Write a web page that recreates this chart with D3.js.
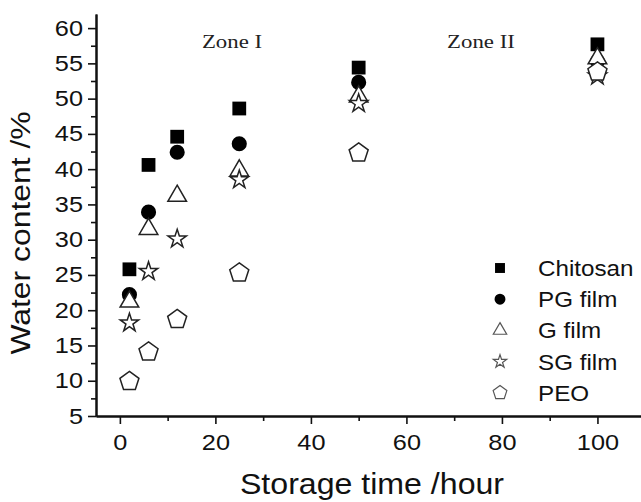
<!DOCTYPE html>
<html>
<head>
<meta charset="utf-8">
<script src="https://cdnjs.cloudflare.com/ajax/libs/d3/7.8.5/d3.min.js"></script>
<style>
  body { margin: 0; background: #fff; }
  svg { display: block; font-family: "Liberation Sans", Arial, sans-serif; }
</style>
</head>
<body>
<svg id="chart"></svg>
<script>
// storage time (hours) and water content (%) per film
const hours = [2, 6, 12, 25, 50, 100]
const chitosan = [25.8, 40.6, 44.6, 48.6, 54.4, 57.7]
const pgFilm = [22.2, 33.9, 42.4, 43.6, 52.3, 55.3]
const gFilm = [21.2, 31.5, 36.2, 39.8, 50.3, 55.7]
const sgFilm = [18.2, 25.5, 30.1, 38.5, 49.3, 53.2]
const peo = [9.9, 14.1, 18.7, 25.3, 42.3, 53.8]

const seriesNames = ["Chitosan", "PG film", "G film", "SG film", "PEO"]
const xTicks = [0, 20, 40, 60, 80, 100]
const xMinor = [10, 30, 50, 70, 90]
const yTicks = [5, 10, 15, 20, 25, 30, 35, 40, 45, 50, 55, 60]
const yMinor = [7.5, 12.5, 17.5, 22.5, 27.5, 32.5, 37.5, 42.5, 47.5, 52.5, 57.5]
const zones = ["Zone I", "Zone II"]

const width = 641, height = 502
const margin = {top: 14, left: 96, bottom: 86}

const svg = d3.select("#chart")
  .attr("width", width)
  .attr("height", height)

svg.append("rect").attr("width", width).attr("height", height).attr("fill", "#fff")

const x = d3.scaleLinear().domain([-5, 110]).range([margin.left, margin.left + 549.2])
const y = d3.scaleLinear().domain([5, 62]).range([height - margin.bottom, margin.top])

// stretch text a bit wider, the original font runs wider than Arial
function widen(sel, k) {
  sel.each(function() {
    const w = this.getComputedTextLength()
    d3.select(this).attr("textLength", w * k).attr("lengthAdjust", "spacingAndGlyphs")
  })
}

function pentagon(r) {
  const pts = d3.range(5).map(i => {
    const a = -Math.PI / 2 + i * 2 * Math.PI / 5
    return [r * Math.cos(a), r * Math.sin(a)]
  })
  return "M" + pts.map(p => p.join(",")).join("L") + "Z"
}

function markerPath(i, big) {
  const s = big ? 1 : 0.72
  if (i === 0) return d3.symbol(d3.symbolSquare, 190 * s * s)()
  if (i === 1) return d3.symbol(d3.symbolCircle, 180 * s * s)()
  if (i === 2) return d3.symbol(d3.symbolTriangle, 150 * s * s)()
  if (i === 3) return d3.symbol(d3.symbolStar, 105 * s * s)()
  return pentagon(10 * s)
}

const filled = [true, true, false, false, false]
const allSeries = [chitosan, pgFilm, gFilm, sgFilm, peo]

// axes
const xAxis = svg.append("g")
  .attr("transform", `translate(0,${y(5)})`)
  .call(d3.axisBottom(x).tickValues(xTicks).tickSize(8).tickSizeOuter(0).tickPadding(10))
svg.append("g")
  .attr("transform", `translate(0,${y(5)})`)
  .call(d3.axisBottom(x).tickValues(xMinor).tickSize(5).tickSizeOuter(0).tickFormat(""))

const yAxis = svg.append("g")
  .attr("transform", `translate(${x(-5)},0)`)
  .call(d3.axisLeft(y).tickValues(yTicks).tickSize(8).tickSizeOuter(0).tickPadding(5))
svg.append("g")
  .attr("transform", `translate(${x(-5)},0)`)
  .call(d3.axisLeft(y).tickValues(yMinor).tickSize(5).tickSizeOuter(0).tickFormat(""))

svg.selectAll(".domain").attr("stroke", "#111").attr("stroke-width", 2)
svg.selectAll(".tick line").attr("stroke", "#111").attr("stroke-width", 1.6)
svg.selectAll(".tick text").attr("font-size", 22).attr("fill", "#111")
  .attr("font-family", "Liberation Sans, Arial, sans-serif")
widen(xAxis.selectAll(".tick text"), 1.15)
widen(yAxis.selectAll(".tick text"), 1.15)

// axis titles
const xTitle = svg.append("text")
  .attr("x", 372).attr("y", 494)
  .attr("text-anchor", "middle")
  .attr("font-size", 30).attr("fill", "#111")
  .text("Storage time /hour")
widen(xTitle, 1.07)

const yTitle = svg.append("text")
  .attr("transform", "translate(30,233) rotate(-90)")
  .attr("text-anchor", "middle")
  .attr("font-size", 27).attr("fill", "#111")
  .text("Water content /%")
widen(yTitle, 1.18)

// zone labels
const zoneX = [232, 481]
zones.forEach((z, i) => {
  const t = svg.append("text")
    .attr("x", zoneX[i]).attr("y", 48)
    .attr("text-anchor", "middle")
    .attr("font-family", "Liberation Serif, Times New Roman, serif")
    .attr("font-size", 19).attr("fill", "#222")
    .text(z)
  widen(t, 1.2)
})

// points
allSeries.forEach((vals, i) => {
  svg.append("g")
    .selectAll("path")
    .data(vals)
    .enter().append("path")
    .attr("transform", (d, j) => `translate(${x(hours[j])},${y(d)})`)
    .attr("d", markerPath(i, true))
    .attr("fill", filled[i] ? "#000" : "#fff")
    .attr("stroke", filled[i] ? "none" : "#222")
    .attr("stroke-width", 1.5)
})

// legend
const legend = svg.append("g")
seriesNames.forEach((name, i) => {
  const ly = 268 + i * 31.2
  legend.append("path")
    .attr("transform", `translate(500,${ly})`)
    .attr("d", markerPath(i, false))
    .attr("fill", filled[i] ? "#000" : "#fff")
    .attr("stroke", filled[i] ? "none" : "#555")
    .attr("stroke-width", 1.2)
  const t = legend.append("text")
    .attr("x", 538).attr("y", ly + 8)
    .attr("font-size", 22).attr("fill", "#111")
    .text(name)
  widen(t, 1.1)
})
</script>
</body>
</html>
